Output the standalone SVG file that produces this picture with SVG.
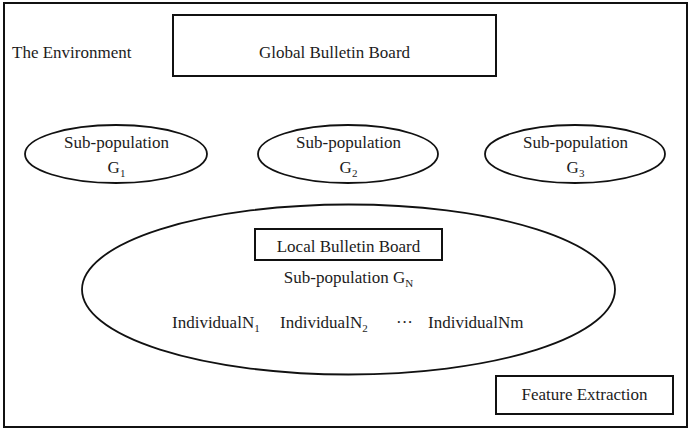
<svg xmlns="http://www.w3.org/2000/svg" width="692" height="430" viewBox="0 0 692 430" font-family="'Liberation Serif', 'DejaVu Serif', serif">
  <style>
    .frame { fill: none; stroke: #111; stroke-width: 2; }
    .box { fill: #fff; stroke: #111; stroke-width: 2; }
    .oval { fill: #fff; stroke: #111; stroke-width: 1.8; }
    text { font-family: 'Liberation Serif', 'DejaVu Serif', serif; font-size: 17px; fill: #1c1c1c; }
    .mid { text-anchor: middle; }
    .sub { font-size: 11px; }
  </style>
  <rect width="692" height="430" fill="#fff"/>

  <!-- environment frame -->
  <g id="environment">
    <rect class="frame" x="4" y="3" width="683" height="424"/>
    <text x="12" y="58">The Environment</text>
  </g>

  <g id="global-board">
    <rect class="box" x="173" y="15" width="323" height="61"/>
    <text class="mid" x="334.5" y="58">Global Bulletin Board</text>
  </g>

  <g id="subpop-g1">
    <ellipse class="oval" cx="116" cy="154" rx="91" ry="29"/>
    <text class="mid" x="116.5" y="148">Sub-population</text>
    <text class="mid" x="116.5" y="173">G<tspan class="sub" dy="4">1</tspan></text>
  </g>

  <g id="subpop-g2">
    <ellipse class="oval" cx="348" cy="154" rx="90" ry="29"/>
    <text class="mid" x="348.5" y="148">Sub-population</text>
    <text class="mid" x="348.5" y="173">G<tspan class="sub" dy="4">2</tspan></text>
  </g>

  <g id="subpop-g3">
    <ellipse class="oval" cx="575" cy="154" rx="90" ry="29"/>
    <text class="mid" x="575.5" y="148">Sub-population</text>
    <text class="mid" x="575.5" y="173">G<tspan class="sub" dy="4">3</tspan></text>
  </g>

  <g id="subpop-gn">
    <ellipse class="oval" cx="348.5" cy="289.5" rx="266.5" ry="85"/>
    <text class="mid" x="348.5" y="283">Sub-population G<tspan class="sub" dy="4">N</tspan></text>
    <text x="172" y="328">IndividualN<tspan class="sub" dy="4">1</tspan></text>
    <text x="280" y="328">IndividualN<tspan class="sub" dy="4">2</tspan></text>
    <text x="396" y="328">···</text>
    <text x="428" y="328">IndividualNm</text>
  </g>

  <g id="local-board">
    <rect class="box" x="255" y="229" width="187" height="31"/>
    <text class="mid" x="348.5" y="252">Local Bulletin Board</text>
  </g>

  <g id="feature-extraction">
    <rect class="box" x="496" y="376" width="177" height="38"/>
    <text class="mid" x="584.5" y="400">Feature Extraction</text>
  </g>

  <g id="connectors"></g>
</svg>
